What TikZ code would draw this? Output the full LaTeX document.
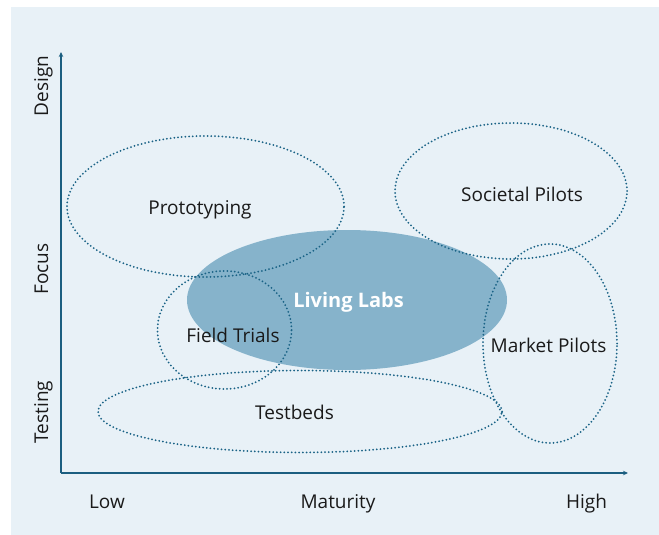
\documentclass[tikz,border=0pt]{standalone}
\usepackage{fontspec}
\setmainfont{Open Sans}
\usetikzlibrary{shapes.geometric,arrows.meta}
\definecolor{panel}{HTML}{E8F1F7}
\definecolor{dotc}{HTML}{1A6386}
\definecolor{axisc}{HTML}{1B5E80}
\definecolor{labfill}{HTML}{86B3CB}
\definecolor{txt}{HTML}{1A1A1A}
\tikzset{
  area/.style={ellipse, draw=dotc, line width=2pt, dash pattern=on 0pt off 3.7pt, line cap=round, inner sep=0pt},
  lbl/.style={font=\fontsize{19}{23}\selectfont, text=txt, anchor=base, inner sep=0pt},
  axlbl/.style={font=\fontsize{19}{23}\selectfont, text=txt, anchor=base, inner sep=0pt, rotate=90},
  axis/.style={draw=axisc, line width=1.4pt, -{Stealth[length=5pt,width=4.5pt]}}
}
\begin{document}
\begin{tikzpicture}[x=1pt,y=-1pt]
\useasboundingbox (0,0) rectangle (659,535);
\fill[white] (0,0) rectangle (659,535);
\fill[panel] (11,7) rectangle (659,535);
% axes
\coordinate (O) at (61,473);
\coordinate (ytop) at (61,52);
\coordinate (xend) at (628,473);
\draw[axis] (O) -- (ytop);
\draw[axis] (O) -- (xend);
% living labs
\node[ellipse, fill=labfill, minimum width=320pt, minimum height=140pt, inner sep=0pt] (ll) at (347,300) {};
% dotted areas
\node[area, minimum width=277pt, minimum height=141pt] (proto) at (205.5,206.5) {};
\node[area, minimum width=232pt, minimum height=136pt] (soc) at (511,191) {};
\node[area, minimum width=134pt, minimum height=118pt] (field) at (224.5,330) {};
\node[area, minimum width=134pt, minimum height=199pt] (market) at (550,343.5) {};
\node[area, minimum width=404pt, minimum height=82pt] (test) at (300,411.5) {};
% labels
\node[lbl] (tproto) at (200,214) {Prototyping};
\node[lbl] (tsoc) at (522,201) {Societal Pilots};
\node[lbl] (tfield) at (233,342) {Field Trials};
\node[lbl] (tmarket) at (548.5,352) {Market Pilots};
\node[lbl] (ttest) at (294.5,419) {Testbeds};
\node[lbl, text=white, font=\fontsize{20}{24}\selectfont\bfseries] (tll) at (348.5,307) {Living Labs};
% axis labels
\node[lbl] (low) at (107,508) {Low};
\node[lbl] (mat) at (338,508) {Maturity};
\node[lbl] (high) at (586.5,508) {High};
\node[axlbl] (design) at (48,86) {Design};
\node[axlbl] (focus) at (48,269) {Focus};
\node[axlbl] (testing) at (48,412) {Testing};
\end{tikzpicture}
\end{document}
